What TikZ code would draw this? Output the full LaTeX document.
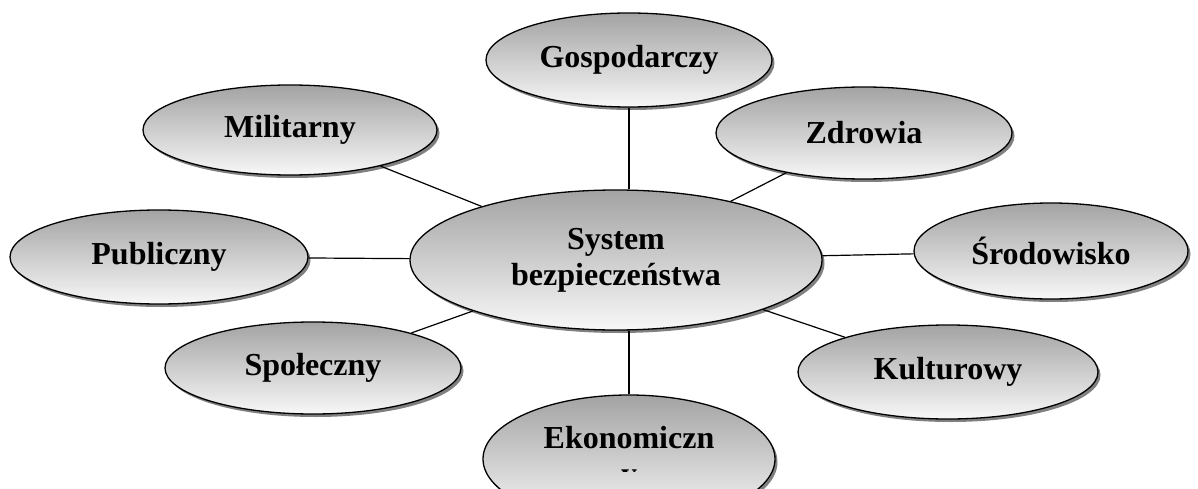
\documentclass[tikz,border=0pt]{standalone}
\usepackage{fontspec}
\setmainfont{Liberation Serif}
\usetikzlibrary{shapes.geometric,shadows}
\tikzset{
  bubble/.style={ellipse, draw=black, line width=1.3pt, inner sep=0pt,
    top color=black!36, bottom color=black!3,
    drop shadow={shadow xshift=2.5pt, shadow yshift=-3pt, fill=black!50, opacity=1},
    font=\fontsize{32}{36}\selectfont\bfseries, align=center},
  link/.style={draw=black, line width=1.2pt}
}
\begin{document}
\begin{tikzpicture}[x=1pt,y=-1pt]
\useasboundingbox (0,0) rectangle (1198,489);
\clip (0,0) rectangle (1198,489);
% nodes
\node[bubble, minimum width=412pt, minimum height=140pt] (sys) at (616,260) {System\\bezpieczeństwa};
\node[bubble, minimum width=286pt, minimum height=94pt] (gos) at (629,60) {Gospodarczy};
\node[bubble, minimum width=296pt, minimum height=92pt] (zdr) at (864,133) {Zdrowia};
\node[bubble, minimum width=294pt, minimum height=90pt] (mil) at (290,130) {Militarny};
\node[bubble, minimum width=298pt, minimum height=94pt] (pub) at (159,257) {Publiczny};
\node[bubble, minimum width=274pt, minimum height=96pt] (sro) at (1051,251) {Środowisko};
\node[bubble, minimum width=296pt, minimum height=92pt] (spo) at (313,368) {Społeczny};
\node[bubble, minimum width=300pt, minimum height=94pt] (kul) at (948,372) {Kulturowy};
\node[bubble, minimum width=292pt, minimum height=128pt] (eko) at (629,459) {};
\node[font=\fontsize{32}{36}\selectfont\bfseries, anchor=base] (ekot) at (629,448) {Ekonomiczn};
\begin{scope}
  \clip (560,466) rectangle (700,471.5);
  \node[font=\fontsize{32}{36}\selectfont\bfseries, anchor=base] (ekoy) at (629,484) {y};
\end{scope}
% connectors
\draw[link] (gos.south) -- (gos.south |- sys.north);
\draw[link] (eko.north) -- (eko.north |- sys.south);
\draw[link] (mil) -- (sys);
\draw[link] (zdr) -- (sys);
\draw[link] (pub) -- (sys);
\draw[link] (sro) -- (sys);
\draw[link] (spo) -- (sys);
\draw[link] (kul) -- (sys);
\end{tikzpicture}
\end{document}
